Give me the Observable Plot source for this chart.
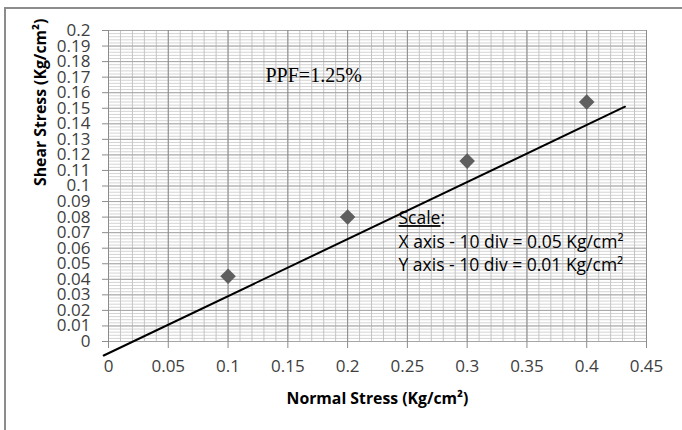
<!DOCTYPE html>
<html>
<head>
<meta charset="utf-8">
<script src="https://cdn.jsdelivr.net/npm/d3@7"></script>
<script src="https://cdn.jsdelivr.net/npm/@observablehq/plot@0.6"></script>
<style>
  html, body { margin: 0; padding: 0; background: #fff; }
  #wrap { position: relative; width: 682px; height: 430px; overflow: hidden; background: #fff; }
  #wrap svg { position: absolute; left: 0; top: 0; }
  #border { position: absolute; left: 4px; top: 7px; width: 800px; height: 600px; border: 2px solid #8c8c8c; box-sizing: border-box; pointer-events: none; }
</style>
</head>
<body>
<div id="wrap"><div id="border"></div></div>
<script>
// Data
const normalStress = [0.1, 0.2, 0.3, 0.4];
const shearStress = [0.042, 0.080, 0.116, 0.154];
// Trend line end points
const lineX = [-0.004, 0.432];
const lineY = [-0.009, 0.151];
// Ticks
const xTicks = [0, 0.05, 0.1, 0.15, 0.2, 0.25, 0.3, 0.35, 0.4, 0.45];
const xTickLabels = ["0", "0.05", "0.1", "0.15", "0.2", "0.25", "0.3", "0.35", "0.4", "0.45"];
const yTicks = d3.range(0, 21).map(i => +(i * 0.01).toFixed(2));
const yTickLabels = yTicks.map(v => String(v));
const xMinor = d3.range(0, 46).map(i => +(i * 0.01).toFixed(3));
const yMinor = d3.range(0, 101).map(i => +(i * 0.002).toFixed(4));
const xTitle = "Normal Stress (Kg/cm²)";
const yTitle = "Shear Stress (Kg/cm²)";
const ppfText = "PPF=1.25%";
const scaleTitle = "Scale:";
const scaleX = "X axis - 10 div = 0.05 Kg/cm²";
const scaleY = "Y axis - 10 div = 0.01 Kg/cm²";

const points = normalStress.map((x, i) => ({x, y: shearStress[i]}));
const trend = lineX.map((x, i) => ({x, y: lineY[i]}));

const font = "'Open Sans', Lato, sans-serif";
const tickFont = 17;
const noteStyle = {frameAnchor: "top-left", textAnchor: "start", fontFamily: font, fontSize: 17.5, fill: "#000", lineAnchor: "middle"};

const chart = Plot.plot({
  width: 682,
  height: 430,
  marginLeft: 108,
  marginRight: 36,
  marginTop: 30,
  marginBottom: 89,
  style: {fontFamily: font, fontSize: "17px", color: "#404040", background: "transparent", overflow: "visible"},
  x: {domain: [0, 0.45], label: null},
  y: {domain: [0, 0.2], label: null},
  marks: [
    Plot.ruleY(yMinor, {stroke: "#d4d4d4", strokeWidth: 1}),
    Plot.ruleX(xMinor, {stroke: "#c4c4c4", strokeWidth: 1}),
    Plot.ruleY(yTicks, {stroke: "#a6a6a6", strokeWidth: 1}),
    Plot.ruleX(xTicks, {stroke: "#8c8c8c", strokeWidth: 1}),
    Plot.axisX({ticks: xTicks, tickFormat: d => xTickLabels[xTicks.indexOf(d)], tickSize: 7, tickPadding: 11, stroke: "#8c8c8c", fill: "#404040", fontFamily: font, fontSize: tickFont, label: null}),
    Plot.axisY({ticks: yTicks, tickFormat: d => yTickLabels[yTicks.indexOf(d)], tickSize: 6, tickPadding: 12, stroke: "#8c8c8c", fill: "#404040", fontFamily: font, fontSize: tickFont, label: null}),
    Plot.line(trend, {x: "x", y: "y", stroke: "#000", strokeWidth: 2, clip: false}),
    Plot.dot(points, {x: "x", y: "y", symbol: "diamond2", r: 7, fill: "#5f5f5f", stroke: "none"}),
    Plot.text([ppfText], {text: d => d, frameAnchor: "top-left", dx: 157, dy: 45, textAnchor: "start", fontFamily: "'Liberation Serif', 'Times New Roman', serif", fontSize: 20, fill: "#000", lineAnchor: "middle"}),
    Plot.text([scaleTitle], {...noteStyle, text: d => d, dx: 290, dy: 188}),
    Plot.text([scaleX], {...noteStyle, text: d => d, dx: 290, dy: 212}),
    Plot.text([scaleY], {...noteStyle, text: d => d, dx: 290, dy: 235}),
    Plot.text([xTitle], {text: d => d, frameAnchor: "bottom", dy: 57, fontFamily: font, fontWeight: "bold", fontSize: 15.8, fill: "#000", lineAnchor: "middle"}),
    Plot.text([yTitle], {text: d => d, frameAnchor: "left", dx: -68, rotate: -90, fontFamily: font, fontWeight: "bold", fontSize: 15.8, fill: "#000", lineAnchor: "middle"})
  ]
});

const svg = d3.select(chart);
// underline "Scale" (not the colon)
svg.selectAll("text").each(function() {
  if (this.textContent === scaleTitle) {
    this.textContent = "";
    d3.select(this).append("tspan").attr("text-decoration", "underline").text("Scale");
    d3.select(this).append("tspan").text(":");
  }
});

document.getElementById("wrap").appendChild(chart);
</script>
</body>
</html>
